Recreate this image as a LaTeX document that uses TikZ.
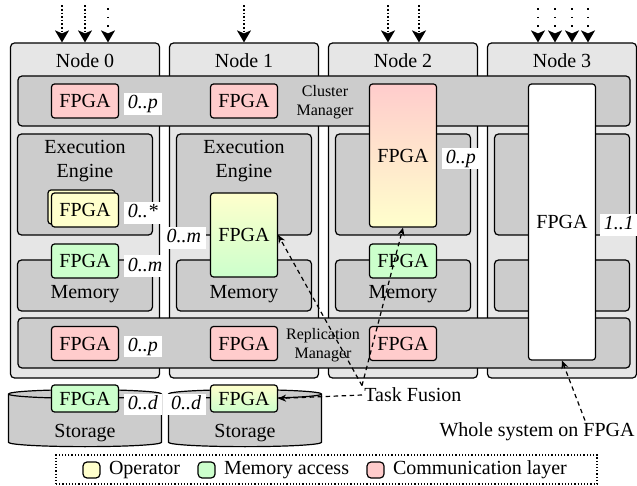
\documentclass[tikz,border=0pt]{standalone}
\usepackage{fontspec}
\setmainfont{Liberation Serif}
\usetikzlibrary{positioning, arrows.meta, shapes.geometric, calc}
\definecolor{opyellow}{HTML}{FFFFCC}
\definecolor{memgreen}{HTML}{CCFFCC}
\definecolor{comred}{HTML}{FFCCCC}
\definecolor{colgray}{HTML}{E6E6E6}
\definecolor{boxgray}{HTML}{CCCCCC}
\tikzset{
  column/.style={draw, rounded corners=2pt, fill=colgray, minimum width=74.5pt, minimum height=167.5pt, line width=0.6pt},
  part/.style={draw, rounded corners=2pt, fill=boxgray, line width=0.6pt},
  bar/.style={part, minimum width=306pt, minimum height=25pt},
  engine/.style={part, minimum width=67.5pt, minimum height=50.5pt},
  mem/.style={part, minimum width=67.5pt, minimum height=25.5pt},
  fpga/.style={draw, rounded corners=1.5pt, minimum width=33.5pt, minimum height=17pt, inner sep=0pt, line width=0.6pt},
  comm/.style={fpga, fill=comred},
  oper/.style={fpga, fill=opyellow},
  memacc/.style={fpga, fill=memgreen},
  storage/.style={cylinder, shape border rotate=90, draw, fill=boxgray, line width=0.6pt, aspect=0.65, minimum width=76.5pt, minimum height=28.5pt},
  mult/.style={fill=white, font=\itshape, inner xsep=2.2pt, inner ysep=0.8pt, text height=7pt, text depth=2pt, yshift=-1.5pt},
  feed/.style={-{Stealth[length=6pt,width=7pt,inset=1.5pt]}, line width=0.8pt, densely dotted},
  sparse/.style={feed, dash pattern=on 0.8pt off 3.4pt},
  hint/.style={-{Stealth[length=4pt,width=3.5pt]}, line width=0.6pt, dash pattern=on 2.2pt off 1.8pt},
  key/.style={draw, rounded corners=2pt, minimum width=8.5pt, minimum height=8pt, inner sep=0pt, line width=0.6pt}
}
\begin{document}
\begin{tikzpicture}[x=0.5pt, y=-0.5pt]
\useasboundingbox (0,0) rectangle (637,486);
% the four nodes
\foreach \i/\cx in {0/85, 1/244, 2/403, 3/562} {
  \node[column] (col\i) at (\cx,210.5) {};
  \node (title\i) at (\cx,61) {Node \i};
}
\node[bar] (cm) at (324,101) {};
\node[bar] (rm) at (324,343) {};
\foreach \i/\cx in {0/85, 1/244, 2/403, 3/562} {
  \node[engine] (ee\i) at (\cx,184.5) {};
  \node[mem] (mm\i) at (\cx,285.5) {};
}
\node[font=\footnotesize, align=center, inner sep=0pt] (cmtxt) at (325,102) {Cluster\\Manager};
\node[font=\footnotesize, align=center, inner sep=0pt] (rmtxt) at (323,345) {Replication\\Manager};
\foreach \i in {0,1} {
  \node[align=center, below=0pt of ee\i.north] (eetxt\i) {Execution\\Engine};
}
\foreach \i in {0,1,2} {
  \node[above=1pt of mm\i.south] (mmtxt\i) {Memory};
}

% storage
\node[storage] (st0) at (85,421.5) {};
\node[storage] (st1) at (245,421.5) {};
\node (sttxt0) at (85,433) {Storage};
\node (sttxt1) at (245,433) {Storage};

% fpgas
\node[comm] (cf0) at (85,101) {FPGA};
\node[comm] (cf1) at (244,101) {FPGA};
\node[fpga, top color=comred, bottom color=opyellow, minimum height=71.5pt] (cf2) at (403,155.5) {FPGA};
\node[fpga, fill=white, minimum height=138pt] (wf) at (562,222) {FPGA};
\node[oper] (ob0) at (81.5,207) {};
\node[oper] (of0) at (85,210) {FPGA};
\node[fpga, top color=opyellow, bottom color=memgreen, minimum height=42pt] (of1) at (244,235) {FPGA};
\node[memacc] (mf0) at (85,261) {FPGA};
\node[memacc] (mf2) at (403,261) {FPGA};
\node[comm] (rf0) at (85,343.5) {FPGA};
\node[comm] (rf1) at (244,343.5) {FPGA};
\node[comm] (rf2) at (403,343.5) {FPGA};
\node[memacc, minimum height=13.5pt] (sf0) at (85,398.5) {FPGA};
\node[fpga, top color=opyellow, bottom color=memgreen, minimum height=13.5pt] (sf1) at (244,398.5) {FPGA};

% multiplicities
\node[mult, right=2pt of cf0] (m1) {0..p};
\node[mult, right=2pt of of0] (m2) {0..*};
\node[mult, left=2pt of of1] (m3) {0..m};
\node[mult, right=2pt of mf0, yshift=-1pt] (m4) {0..m};
\node[mult, right=2pt of rf0] (m5) {0..p};
\node[mult, right=2pt of cf2] (m6) {0..p};
\node[mult, right=1.5pt of wf] (m7) {1..1};
\node[mult, right=2pt of sf0, yshift=-1.5pt] (m8) {0..d};
\node[mult, left=2pt of sf1, yshift=-1.5pt] (m9) {0..d};

% incoming work
\foreach \dx in {-11.5pt, 0pt}
  \draw[feed] ([xshift=\dx, yshift=18.5pt]col0.north) -- ([xshift=\dx]col0.north);
\draw[sparse] ([xshift=11.5pt, yshift=17pt]col0.north) -- ([xshift=11.5pt]col0.north);
\draw[feed] ([yshift=18.5pt]col1.north) -- (col1.north);
\foreach \dx in {-7.5pt, 8pt}
  \draw[feed] ([xshift=\dx, yshift=18.5pt]col2.north) -- ([xshift=\dx]col2.north);
\foreach \dx in {-12pt, -3.5pt, 5pt, 13pt}
  \draw[sparse] ([xshift=\dx, yshift=17pt]col3.north) -- ([xshift=\dx]col3.north);

% annotations
\node[anchor=west, inner sep=1pt] (tf) at (362,395) {Task Fusion};
\draw[hint] (tf.north west) -- (of1.east);
\draw[hint] (tf.north west) -- (cf2.south);
\draw[hint] (tf.west) -- (sf1.east);
\node[anchor=east, inner sep=1pt] (ws) at (637,432) {Whole system on FPGA};
\draw[hint] ([xshift=-26pt]ws.north east) -- (wf.south);

% legend
\node[draw, densely dotted, line width=0.6pt, minimum width=270.5pt, minimum height=14.5pt] (legend) at (326.5,469.5) {};
\node[key, fill=opyellow] (kop) at (91.5,470) {};
\node[right=3pt of kop, inner sep=1pt] (lop) {Operator};
\node[key, fill=memgreen, right=7.5pt of lop] (kmem) {};
\node[right=3pt of kmem, inner sep=1pt] (lmem) {Memory access};
\node[key, fill=comred, right=7.5pt of lmem] (kcom) {};
\node[right=3pt of kcom, inner sep=1pt] (lcom) {Communication layer};
\end{tikzpicture}
\end{document}
